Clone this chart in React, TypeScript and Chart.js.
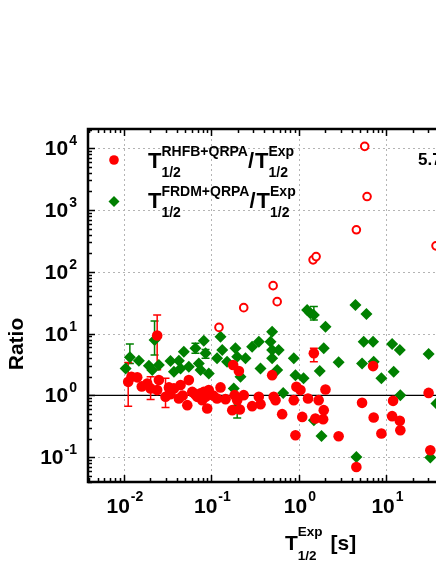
import React, { useEffect, useRef } from "react";
import { Chart, registerables } from "chart.js";
Chart.register(...registerables);

// ---- Data ----
const redX = [0.0112, 0.0122, 0.0142, 0.0185, 0.0202, 0.024, 0.0251, 0.024, 0.0299, 0.0327, 0.0373, 0.0425, 0.0444, 0.053, 0.0552, 0.0604, 0.0689, 0.0752, 0.0818, 0.0895, 0.0785, 0.0933, 0.127, 0.116, 0.145, 0.177, 0.206, 0.184, 0.197, 0.173, 0.211, 0.234, 0.292, 0.348, 0.364, 0.494, 0.515, 0.54, 0.643, 0.873, 0.935, 1.04, 1.09, 1.27, 1.48, 0.912, 1.68, 1.92, 1.54, 1.89, 2.01, 2.84, 5.26, 7.03, 7.14, 8.75, 11.9, 11.6, 14.2, 14.4, 30.3, 31.7, 4.53, 0.065, 0.086, 0.047, 0.016, 0.034, 0.105];
const redY = [1.66, 2.0, 1.96, 1.56, 1.3, 9.3, 1.77, 1.22, 0.95, 1.35, 1.3, 0.894, 1.47, 0.696, 1.77, 1.14, 0.949, 1.08, 1.14, 0.616, 0.839, 1.22, 1.35, 0.894, 0.871, 3.1, 2.48, 1.01, 0.839, 0.578, 0.593, 1.01, 0.671, 0.949, 0.723, 2.13, 0.949, 0.839, 0.498, 0.839, 1.38, 1.22, 0.45, 0.894, 4.8, 0.227, 0.839, 0.578, 0.424, 0.413, 1.25, 0.219, 0.759, 2.98, 0.44, 0.242, 0.818, 0.462, 0.388, 0.274, 1.1, 0.13, 0.0697, 1.05, 0.95, 1.0, 1.4, 1.05, 1.0];

const openX = [0.122, 0.234, 0.507, 0.564, 1.45, 1.57, 4.53, 5.64, 6.0, 36.8];
const openY = [12.6, 26.3, 59.7, 32.9, 156, 176, 478, 10700, 1650, 263];

const greenX = [0.01046, 0.0117, 0.01483, 0.0224, 0.0193, 0.0251, 0.0211, 0.0341, 0.0425, 0.0484, 0.0373, 0.0444, 0.0552, 0.0657, 0.0818, 0.0857, 0.0718, 0.0933, 0.0752, 0.127, 0.133, 0.116, 0.151, 0.188, 0.197, 0.215, 0.18, 0.245, 0.292, 0.348, 0.364, 0.494, 0.473, 0.494, 0.587, 0.494, 0.564, 0.661, 0.873, 0.912, 1.13, 1.24, 1.35, 1.48, 2.01, 1.92, 1.73, 2.84, 4.42, 5.9, 5.49, 7.03, 5.26, 7.14, 8.75, 11.6, 14.2, 12.1, 14.4, 30.3, 37.2, 1.48, 1.81, 4.53, 31.7, 0.197];
const greenY = [2.74, 4.13, 3.64, 7.87, 3.02, 3.1, 2.57, 3.6, 3.64, 5.09, 2.41, 2.74, 2.91, 5.78, 7.67, 4.8, 3.3, 2.27, 2.57, 8.91, 5.42, 3.98, 3.51, 5.78, 4.22, 2.0, 1.3, 3.98, 6.13, 7.39, 2.74, 10.7, 7.39, 5.42, 5.42, 3.98, 2.57, 1.1, 3.98, 2.13, 1.89, 24.1, 21.3, 20.0, 12.9, 5.78, 2.48, 3.43, 29.1, 20.8, 7.39, 7.39, 3.3, 3.51, 1.89, 6.78, 5.42, 2.41, 1.01, 4.67, 0.742, 0.398, 0.221, 0.101, 0.099, 0.653];

// error bars: x position, low and high values
const redErrX = [0.0112, 0.0202, 0.024, 0.0299, 1.48];
const redErrLo = [0.67, 0.86, 2.6, 0.64, 3.51];
const redErrHi = [3.4, 2.0, 20.0, 1.89, 5.78];
const greenErrX = [0.0117, 0.0224, 0.0657, 0.0857, 1.48, 0.197];
const greenErrLo = [3.3, 4.5, 4.8, 3.98, 16.6, 0.43];
const greenErrHi = [6.8, 16.0, 6.97, 5.56, 27.4, 0.84];

const xMin = 0.00389;
const xMax = 100;
const yMin = 0.0398;
const yMax = 20400;
const xDecades = [-2, -1, 0, 1, 2];
const yDecades = [-1, 0, 1, 2, 3, 4];
const legendModels = ["RHFB+QRPA", "FRDM+QRPA"];

const RED = "#ff0000";
const GREEN = "#008000";
const FONT = "'Liberation Sans', Arial, Helvetica, sans-serif";

function toPts(xs: number[], ys: number[]) {
  return xs.map((x, i) => ({ x, y: ys[i] }));
}

function drawPow(ctx: CanvasRenderingContext2D, exp: string, x: number, baseline: number, align: "center" | "right", supShift: number) {
  const big = `bold 21px ${FONT}`;
  const small = `bold 14px ${FONT}`;
  ctx.font = big;
  const w1 = ctx.measureText("10").width;
  ctx.font = small;
  const w2 = ctx.measureText(exp).width;
  const total = w1 + 1 + w2;
  const x0 = align === "center" ? x - total / 2 : x - total;
  ctx.textAlign = "left";
  ctx.textBaseline = "alphabetic";
  ctx.font = big;
  ctx.fillText("10", x0, baseline);
  ctx.font = small;
  ctx.fillText(exp, x0 + w1 + 1, baseline - supShift);
}

function drawLabel(ctx: CanvasRenderingContext2D, x: number, baseline: number, sup: string, sub: string, bigSize: number, smallSize: number, supUp: number, subDown: number) {
  ctx.textAlign = "left";
  ctx.textBaseline = "alphabetic";
  ctx.font = `bold ${bigSize}px ${FONT}`;
  ctx.fillText("T", x, baseline);
  const wT = ctx.measureText("T").width;
  ctx.font = `bold ${smallSize}px ${FONT}`;
  ctx.fillText(sup, x + wT, baseline - supUp);
  ctx.fillText(sub, x + wT, baseline + subDown);
  const w = Math.max(ctx.measureText(sup).width, ctx.measureText(sub).width);
  return x + wT + w;
}

const framePlugin = {
  id: "framePlugin",
  beforeDatasetsDraw(chart: any) {
    const { ctx, chartArea: a, scales } = chart;
    const xs = scales.x;
    const ys = scales.y;
    ctx.save();
    // dotted grid
    ctx.strokeStyle = "#b4b4b4";
    ctx.lineWidth = 1;
    ctx.setLineDash([2, 3]);
    xDecades.forEach((d) => {
      const px = Math.round(xs.getPixelForValue(Math.pow(10, d))) + 0.5;
      if (px <= a.left || px >= a.right) return;
      ctx.beginPath();
      ctx.moveTo(px, a.top);
      ctx.lineTo(px, a.bottom);
      ctx.stroke();
    });
    yDecades.forEach((d) => {
      if (d === 0) return;
      const py = Math.round(ys.getPixelForValue(Math.pow(10, d))) + 0.5;
      ctx.beginPath();
      ctx.moveTo(a.left, py);
      ctx.lineTo(a.right, py);
      ctx.stroke();
    });
    ctx.setLineDash([]);
    // ratio = 1 line
    ctx.strokeStyle = "#000";
    ctx.lineWidth = 1.2;
    const p1 = ys.getPixelForValue(1);
    ctx.beginPath();
    ctx.moveTo(a.left, p1);
    ctx.lineTo(a.right, p1);
    ctx.stroke();
    // error bars
    const bars = (X: number[], L: number[], H: number[], col: string) => {
      ctx.strokeStyle = col;
      ctx.lineWidth = 1.5;
      X.forEach((x, i) => {
        const px = xs.getPixelForValue(x);
        const pl = ys.getPixelForValue(L[i]);
        const ph = ys.getPixelForValue(H[i]);
        ctx.beginPath();
        ctx.moveTo(px, pl);
        ctx.lineTo(px, ph);
        ctx.moveTo(px - 4, pl);
        ctx.lineTo(px + 4, pl);
        ctx.moveTo(px - 4, ph);
        ctx.lineTo(px + 4, ph);
        ctx.stroke();
      });
    };
    bars(greenErrX, greenErrLo, greenErrHi, GREEN);
    bars(redErrX, redErrLo, redErrHi, RED);
    ctx.restore();
  },
  afterDraw(chart: any) {
    const { ctx, chartArea: a, scales } = chart;
    const xs = scales.x;
    const ys = scales.y;
    ctx.save();
    ctx.fillStyle = "#000";
    ctx.strokeStyle = "#000";
    // ticks
    ctx.lineWidth = 1.5;
    const maj = 7;
    const min = 4;
    for (let d = -3; d <= 2; d++) {
      for (let m = 1; m <= 9; m++) {
        const v = m * Math.pow(10, d);
        if (v < xMin || v > xMax) continue;
        const px = Math.round(xs.getPixelForValue(v)) + 0.5;
        const len = m === 1 ? maj : min;
        ctx.beginPath();
        ctx.moveTo(px, a.bottom);
        ctx.lineTo(px, a.bottom - len);
        ctx.moveTo(px, a.top);
        ctx.lineTo(px, a.top + len);
        ctx.stroke();
      }
    }
    for (let d = -2; d <= 4; d++) {
      for (let m = 1; m <= 9; m++) {
        const v = m * Math.pow(10, d);
        if (v < yMin || v > yMax) continue;
        const py = Math.round(ys.getPixelForValue(v)) + 0.5;
        const len = m === 1 ? maj : min;
        ctx.beginPath();
        ctx.moveTo(a.left, py);
        ctx.lineTo(a.left + len, py);
        ctx.moveTo(a.right, py);
        ctx.lineTo(a.right - len, py);
        ctx.stroke();
      }
    }
    // frame
    ctx.lineWidth = 2.5;
    ctx.strokeRect(a.left, a.top, a.right - a.left, a.bottom - a.top);
    // tick labels
    xDecades.forEach((d) => {
      const px = xs.getPixelForValue(Math.pow(10, d));
      drawPow(ctx, String(d), px + 1, a.bottom + 31, "center", 12);
    });
    yDecades.forEach((d) => {
      const py = ys.getPixelForValue(Math.pow(10, d));
      drawPow(ctx, String(d), a.left - 11, py + 7, "right", 10);
    });
    // axis titles
    ctx.save();
    ctx.font = `bold 21px ${FONT}`;
    ctx.textAlign = "center";
    ctx.textBaseline = "middle";
    ctx.translate(17, 344);
    ctx.rotate(-Math.PI / 2);
    ctx.fillText("Ratio", 0, 0);
    ctx.restore();
    const endX = drawLabel(ctx, 285, 550, "Exp", "1/2", 21, 13.5, 14, 10);
    ctx.font = `bold 21px ${FONT}`;
    ctx.textAlign = "left";
    ctx.fillText("[s]", endX + 8, 550);
    // legend
    ctx.fillStyle = RED;
    ctx.beginPath();
    ctx.arc(114, 160, 4.8, 0, Math.PI * 2);
    ctx.fill();
    ctx.fillStyle = GREEN;
    ctx.beginPath();
    ctx.moveTo(114, 196);
    ctx.lineTo(119.5, 201.5);
    ctx.lineTo(114, 207);
    ctx.lineTo(108.5, 201.5);
    ctx.closePath();
    ctx.fill();
    ctx.fillStyle = "#000";
    legendModels.forEach((model, i) => {
      const base = 168 + i * 40;
      let x = drawLabel(ctx, 148, base, model, "1/2", 22, 14, 12, 9);
      ctx.font = `bold 22px ${FONT}`;
      ctx.textAlign = "left";
      ctx.fillText("/", x, base);
      x += ctx.measureText("/").width + 1;
      drawLabel(ctx, x, base, "Exp", "1/2", 22, 14, 12, 9);
    });
    ctx.font = `bold 17px ${FONT}`;
    ctx.textAlign = "left";
    ctx.fillText("5.7", 418, 165);
    ctx.restore();
  },
};

export default function App() {
  const ref = useRef<HTMLCanvasElement | null>(null);
  useEffect(() => {
    if (!ref.current) return;
    const chart = new Chart(ref.current, {
      type: "scatter",
      data: {
        datasets: [
          {
            label: "open",
            data: toPts(openX, openY),
            pointStyle: "circle",
            pointRadius: 3.8,
            pointBackgroundColor: "#ffffff",
            pointBorderColor: RED,
            pointBorderWidth: 2,
            order: 0,
          },
          {
            label: "RHFB+QRPA",
            data: toPts(redX, redY),
            pointStyle: "circle",
            pointRadius: 5.3,
            pointBackgroundColor: RED,
            pointBorderColor: RED,
            pointBorderWidth: 0,
            order: 1,
          },
          {
            label: "FRDM+QRPA",
            data: toPts(greenX, greenY),
            pointStyle: "rectRot",
            pointRadius: 6,
            pointBackgroundColor: GREEN,
            pointBorderColor: GREEN,
            pointBorderWidth: 0,
            order: 2,
          },
        ],
      },
      options: {
        responsive: false,
        animation: false,
        devicePixelRatio: 1,
        layout: { padding: { left: 88, top: 129, right: 26, bottom: 82 } },
        plugins: { legend: { display: false }, tooltip: { enabled: false } },
        scales: {
          x: { type: "logarithmic", min: xMin, max: xMax, bounds: "data", display: false },
          y: { type: "logarithmic", min: yMin, max: yMax, bounds: "data", display: false },
        },
      },
      plugins: [framePlugin],
    });
    return () => chart.destroy();
  }, []);
  return (
    <div style={{ position: "absolute", left: 0, top: 0, width: 436, height: 564, overflow: "hidden", background: "#fff" }}>
      <canvas ref={ref} width={500} height={564} style={{ display: "block" }} />
    </div>
  );
}
